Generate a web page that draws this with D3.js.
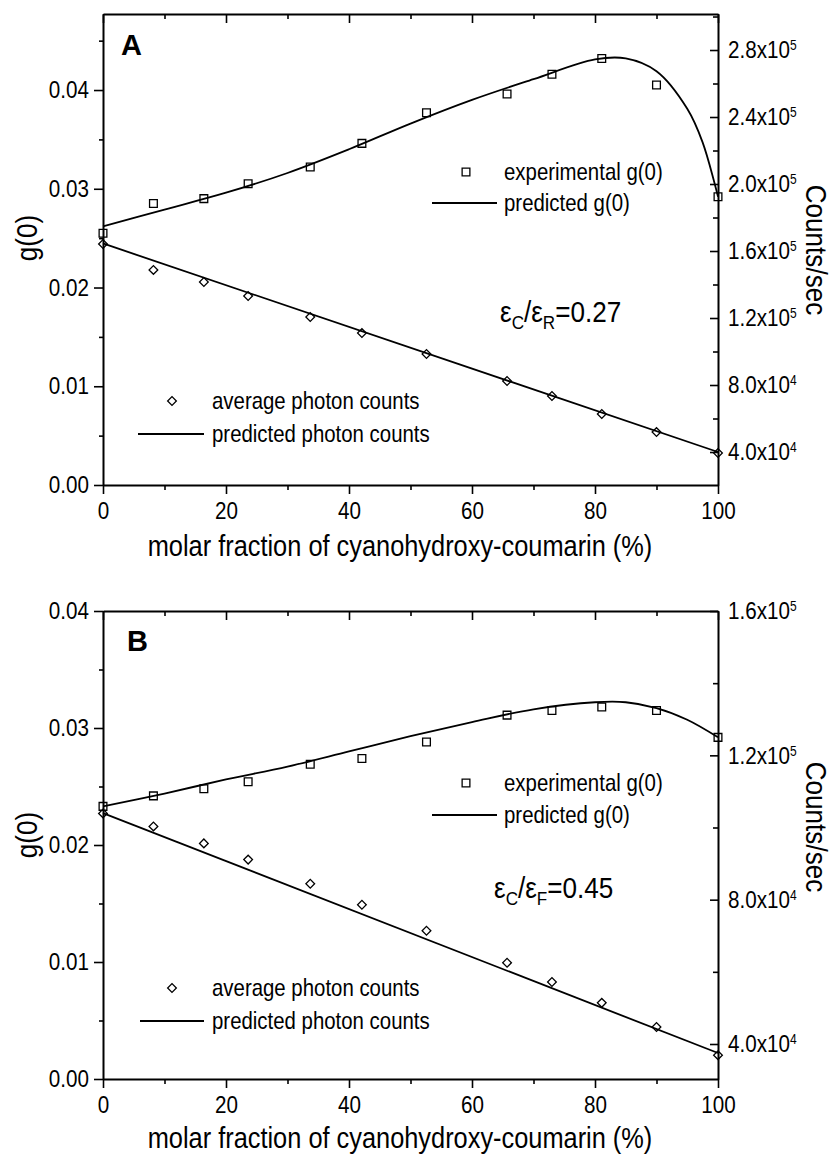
<!DOCTYPE html>
<html><head><meta charset="utf-8">
<script src="https://cdn.jsdelivr.net/npm/d3@7"></script>
<style>
html,body{margin:0;padding:0;background:#fff;}
svg{display:block;}
</style></head>
<body>
<svg id="chart" width="840" height="1155"></svg>
<script>
// ---------- DATA ----------
const xFraction = [0, 8.2, 16.4, 23.6, 33.7, 42.1, 52.6, 65.7, 73, 81.1, 90, 100];

// Panel A
const gExpA = [0.0255, 0.0285, 0.0290, 0.0305, 0.0322, 0.0346, 0.0377, 0.0396, 0.0416, 0.0432, 0.0405, 0.0292];
const countsA = [1.642e5, 1.487e5, 1.415e5, 1.331e5, 1.206e5, 1.110e5, 0.985e5, 0.824e5, 0.734e5, 0.627e5, 0.519e5, 0.394e5];
const predXA = [0, 10, 20, 30, 40, 50, 60, 70, 80, 85, 90, 95, 97.5, 100];
const predGA = [0.0262, 0.0279, 0.0296, 0.0316, 0.0340, 0.0366, 0.0390, 0.0411, 0.0431, 0.0432, 0.0419, 0.0381, 0.0347, 0.0292];
const predCountXA = [0, 100];
const predCountA = [1.645e5, 0.400e5];

// Panel B
const gExpB = [0.0233, 0.0242, 0.0248, 0.0254, 0.0269, 0.0274, 0.0288, 0.0311, 0.0315, 0.0318, 0.0315, 0.0292];
const countsB = [1.039e5, 1.003e5, 0.956e5, 0.911e5, 0.844e5, 0.786e5, 0.714e5, 0.625e5, 0.572e5, 0.514e5, 0.447e5, 0.369e5];
const predXB = [0, 10, 20, 30, 40, 50, 60, 70, 80, 85, 90, 95, 100];
const predGB = [0.0233, 0.0244, 0.0256, 0.0267, 0.0280, 0.0293, 0.0305, 0.0316, 0.0322, 0.0322, 0.0317, 0.0307, 0.0292];
const predCountXB = [0, 100];
const predCountB = [1.040e5, 0.375e5];

// Ticks
const xMajor = [0, 20, 40, 60, 80, 100];
const xMinor = [10, 30, 50, 70, 90];
const leftMajorA = [0, 0.01, 0.02, 0.03, 0.04];
const leftMinorA = [0.005, 0.015, 0.025, 0.035, 0.045];
const rightMajorA = [4e4, 8e4, 1.2e5, 1.6e5, 2.0e5, 2.4e5, 2.8e5];
const rightMinorA = [6e4, 1.0e5, 1.4e5, 1.8e5, 2.2e5, 2.6e5, 3.0e5];
const leftMajorB = [0, 0.01, 0.02, 0.03, 0.04];
const leftMinorB = [0.005, 0.015, 0.025, 0.035];
const rightMajorB = [4e4, 8e4, 1.2e5, 1.6e5];
const rightMinorB = [6e4, 1.0e5, 1.4e5];

const xTitle = "molar fraction of cyanohydroxy-coumarin (%)";
const yTitle = "g(0)";
const y2Title = "Counts/sec";
const legendLabels = ["experimental g(0)", "predicted g(0)", "average photon counts", "predicted photon counts"];

// ---------- DRAW ----------
const svg = d3.select("#chart");
const fontN = "'Liberation Sans Narrow','Arial Narrow','Liberation Sans',Arial,sans-serif";
const fontB = "'Liberation Sans',Arial,sans-serif";

// horizontally condense text (emulates a condensed Helvetica)
function condense(sel, f) {
  sel.each(function() {
    const t = d3.select(this);
    const tr = t.attr("transform");
    if (tr) {
      t.attr("transform", tr + ` scale(${f},1)`);
    } else {
      const x = +t.attr("x") || 0, y = +t.attr("y") || 0;
      t.attr("x", 0).attr("y", 0).attr("transform", `translate(${x},${y}) scale(${f},1)`);
    }
  });
}

function sciLabel(sel) {
  sel.each(function(d) {
    const e = Math.floor(Math.log10(d) + 1e-9);
    const m = (d / Math.pow(10, e)).toFixed(1);
    const t = d3.select(this).text(null);
    t.append("tspan").text(m + "x10");
    t.append("tspan").attr("dy", "-0.55em").attr("font-size", "14px").text(e);
  });
}

function panel(cfg) {
  const x = d3.scaleLinear([0, 100], [cfg.left, cfg.right]);
  const y = d3.scaleLinear(cfg.yDomain, [cfg.bottom, cfg.top]);
  const y2 = d3.scaleLinear(cfg.y2Domain, [cfg.bottom, cfg.top]);
  const g = svg.append("g");

  function styleAxis(a) {
    a.selectAll("path.domain").attr("stroke", "#000").attr("stroke-width", 2);
    a.selectAll(".tick line").attr("stroke", "#000").attr("stroke-width", 1.6);
    a.selectAll("text").attr("font-family", fontN).attr("font-size", 24).attr("fill", "#000");
  }

  // bottom
  let a = g.append("g").attr("transform", `translate(0,${cfg.bottom})`)
    .call(d3.axisBottom(x).tickValues(xMajor).tickSize(9).tickPadding(8).tickSizeOuter(0));
  styleAxis(a); condense(a.selectAll(".tick text"), 0.86);
  a = g.append("g").attr("transform", `translate(0,${cfg.bottom})`)
    .call(d3.axisBottom(x).tickValues(xMinor).tickSize(5).tickFormat("").tickSizeOuter(0));
  styleAxis(a); a.select(".domain").remove();
  // top (inward)
  a = g.append("g").attr("transform", `translate(0,${cfg.top})`)
    .call(d3.axisTop(x).tickValues(xMajor).tickSize(-9).tickFormat("").tickSizeOuter(0));
  styleAxis(a);
  a = g.append("g").attr("transform", `translate(0,${cfg.top})`)
    .call(d3.axisTop(x).tickValues(xMinor).tickSize(-5).tickFormat("").tickSizeOuter(0));
  styleAxis(a); a.select(".domain").remove();
  // left (outward)
  a = g.append("g").attr("transform", `translate(${cfg.left},0)`)
    .call(d3.axisLeft(y).tickValues(cfg.leftMajor).tickSize(9).tickPadding(5).tickSizeOuter(0)
      .tickFormat(d3.format(".2f")));
  styleAxis(a); condense(a.selectAll(".tick text"), 0.86);
  a = g.append("g").attr("transform", `translate(${cfg.left},0)`)
    .call(d3.axisLeft(y).tickValues(cfg.leftMinor).tickSize(4).tickFormat("").tickSizeOuter(0));
  styleAxis(a); a.select(".domain").remove();
  // right (inward ticks)
  a = g.append("g").attr("transform", `translate(${cfg.right},0)`)
    .call(d3.axisRight(y2).tickValues(cfg.rightMajor).tickSize(-8).tickPadding(10).tickSizeOuter(0));
  styleAxis(a);
  a.selectAll(".tick text").call(sciLabel);
  condense(a.selectAll(".tick text"), 0.86);
  a = g.append("g").attr("transform", `translate(${cfg.right},0)`)
    .call(d3.axisRight(y2).tickValues(cfg.rightMinor.filter(v => v <= cfg.y2Domain[1])).tickSize(-5).tickFormat("").tickSizeOuter(0));
  styleAxis(a); a.select(".domain").remove();

  // lines
  const lineG = d3.line().x(d => x(d[0])).y(d => y(d[1])).curve(d3.curveCatmullRom.alpha(0.5));
  g.append("path").datum(cfg.predX.map((v, i) => [v, cfg.predG[i]]))
    .attr("d", lineG).attr("fill", "none").attr("stroke", "#000").attr("stroke-width", 1.8);
  const lineC = d3.line().x(d => x(d[0])).y(d => y2(d[1]));
  g.append("path").datum(cfg.predCX.map((v, i) => [v, cfg.predC[i]]))
    .attr("d", lineC).attr("fill", "none").attr("stroke", "#000").attr("stroke-width", 1.8);

  // markers
  const sq = d3.symbol().type(d3.symbolSquare).size(60);
  const dm = d3.symbol().type(d3.symbolSquare).size(38);
  g.selectAll("path.sq").data(xFraction.map((v, i) => [v, cfg.gExp[i]])).join("path")
    .attr("class", "sq").attr("d", sq)
    .attr("transform", d => `translate(${x(d[0])},${y(d[1])})`)
    .attr("fill", "none").attr("stroke", "#000").attr("stroke-width", 1.3);
  g.selectAll("path.dm").data(xFraction.map((v, i) => [v, cfg.counts[i]])).join("path")
    .attr("class", "dm").attr("d", dm)
    .attr("transform", d => `translate(${x(d[0])},${y2(d[1])}) rotate(45)`)
    .attr("fill", "none").attr("stroke", "#000").attr("stroke-width", 1.3);

  // legends
  const L = cfg.legend;
  g.append("path").attr("d", sq).attr("transform", `translate(${L.sq[0]},${L.sq[1]})`)
    .attr("fill", "none").attr("stroke", "#000").attr("stroke-width", 1.3);
  g.append("line").attr("x1", L.l1[0]).attr("x2", L.l1[1]).attr("y1", L.l1[2]).attr("y2", L.l1[2])
    .attr("stroke", "#000").attr("stroke-width", 1.8);
  g.append("path").attr("d", dm).attr("transform", `translate(${L.dm[0]},${L.dm[1]}) rotate(45)`)
    .attr("fill", "none").attr("stroke", "#000").attr("stroke-width", 1.3);
  g.append("line").attr("x1", L.l2[0]).attr("x2", L.l2[1]).attr("y1", L.l2[2]).attr("y2", L.l2[2])
    .attr("stroke", "#000").attr("stroke-width", 1.8);
  const lt = (tx, ty, s) => condense(g.append("text").attr("x", tx).attr("y", ty)
    .attr("font-family", fontN).attr("font-size", 24).text(s), 0.85);
  lt(L.t1x, L.sq[1] + 8, legendLabels[0]);
  lt(L.t1x, L.l1[2] + 8, legendLabels[1]);
  lt(L.t2x, L.dm[1] + 8, legendLabels[2]);
  lt(L.t2x, L.l2[2] + 8, legendLabels[3]);

  // epsilon annotation
  const et = g.append("text").attr("x", cfg.eps.x).attr("y", cfg.eps.y)
    .attr("font-family", fontN).attr("font-size", 29);
  et.append("tspan").text("ε");
  et.append("tspan").attr("font-size", 19).attr("dy", 7).text("C");
  et.append("tspan").attr("dy", -7).text("/ε");
  et.append("tspan").attr("font-size", 19).attr("dy", 7).text(cfg.eps.sub);
  et.append("tspan").attr("dy", -7).text("=" + cfg.eps.val);
  condense(et, 0.9);

  // panel letter
  g.append("text").attr("x", cfg.letter.x).attr("y", cfg.letter.y)
    .attr("font-family", fontB).attr("font-weight", "bold").attr("font-size", 29).text(cfg.letter.t);

  // titles
  condense(g.append("text").attr("x", 400).attr("y", cfg.xTitleY)
    .attr("text-anchor", "middle").attr("font-family", fontN).attr("font-size", 29).text(xTitle), 0.875);
  condense(g.append("text").attr("transform", `translate(${cfg.yTitleX},${cfg.yTitleY}) rotate(-90)`)
    .attr("text-anchor", "middle").attr("font-family", fontN).attr("font-size", 29).text(yTitle), 0.9);
  condense(g.append("text").attr("transform", `translate(${cfg.y2TitleX},${cfg.y2TitleY}) rotate(90)`)
    .attr("text-anchor", "middle").attr("font-family", fontN).attr("font-size", 29).text(y2Title), 0.9);
}

panel({
  left: 103, right: 718, top: 14, bottom: 485,
  yDomain: [0, 0.0477], y2Domain: [2.03e4, 3.015e5],
  leftMajor: leftMajorA, leftMinor: leftMinorA, rightMajor: rightMajorA, rightMinor: rightMinorA,
  gExp: gExpA, counts: countsA, predX: predXA, predG: predGA, predCX: predCountXA, predC: predCountA,
  legend: { sq: [466, 172], l1: [432, 497, 203], t1x: 504, dm: [172, 401], l2: [138, 204, 434], t2x: 212 },
  eps: { x: 500, y: 322, sub: "R", val: "0.27" },
  letter: { x: 121, y: 55, t: "A" },
  xTitleY: 556, yTitleX: 37, yTitleY: 238, y2TitleX: 806, y2TitleY: 250
});

panel({
  left: 103, right: 718, top: 611, bottom: 1079,
  yDomain: [0, 0.04], y2Domain: [3.03e4, 1.6e5],
  leftMajor: leftMajorB, leftMinor: leftMinorB, rightMajor: rightMajorB, rightMinor: rightMinorB,
  gExp: gExpB, counts: countsB, predX: predXB, predG: predGB, predCX: predCountXB, predC: predCountB,
  legend: { sq: [466, 783], l1: [432, 497, 815], t1x: 504, dm: [172, 988], l2: [140, 204, 1021], t2x: 212 },
  eps: { x: 494, y: 898, sub: "F", val: "0.45" },
  letter: { x: 127, y: 651, t: "B" },
  xTitleY: 1148, yTitleX: 37, yTitleY: 835, y2TitleX: 806, y2TitleY: 827
});
</script>
</body></html>
